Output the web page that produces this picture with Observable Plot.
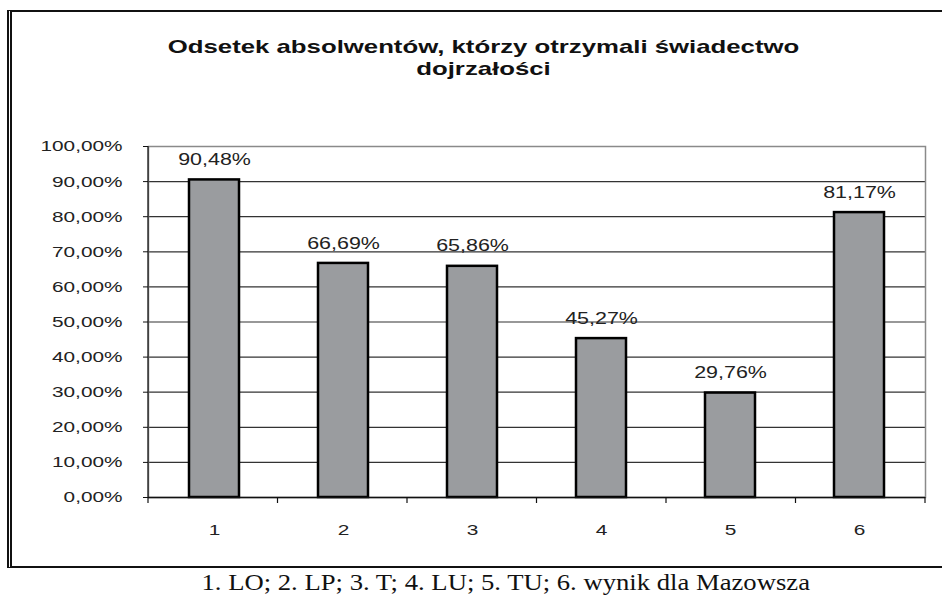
<!DOCTYPE html>
<html><head><meta charset="utf-8">
<script src="https://cdn.jsdelivr.net/npm/d3@7"></script>
<script src="https://cdn.jsdelivr.net/npm/@observablehq/plot@0.6"></script>
<style>
body{margin:0;background:#fff;}
#wrap{position:relative;width:942px;height:597px;overflow:hidden;font-family:"Liberation Sans",Arial,sans-serif;color:#111;}
#frame{position:absolute;left:7px;top:10px;width:980px;height:554px;border-top:2px solid #111;border-bottom:2px solid #111;border-left:5px double #111;}
#title{position:absolute;top:36px;left:13px;width:942px;text-align:center;font-weight:bold;font-size:18.4px;line-height:22px;}
#title span{display:inline-block;transform:scaleX(1.40);}
#chart{position:absolute;left:0;top:100px;}
#caption{position:absolute;top:570px;left:35px;width:942px;text-align:center;font-family:"Liberation Serif","Times New Roman",serif;font-size:22.5px;line-height:26px;color:#111;}
#caption span{display:inline-block;transform:scaleX(1.185);}
</style></head>
<body>
<div id="wrap">
  <div id="frame"></div>
  <div id="title"><span>Odsetek absolwentów, którzy otrzymali świadectwo<br>dojrzałości</span></div>
  <div id="chart"></div>
  <div id="caption"><span>1. LO; 2. LP; 3. T; 4. LU; 5. TU; 6. wynik dla Mazowsza</span></div>
</div>
<script>
const categories = ["1", "2", "3", "4", "5", "6"];
const values = [90.48, 66.69, 65.86, 45.27, 29.76, 81.17];
const valueLabels = ["90,48%", "66,69%", "65,86%", "45,27%", "29,76%", "81,17%"];
const yTicks = [0, 10, 20, 30, 40, 50, 60, 70, 80, 90, 100];
const yTickLabels = ["0,00%", "10,00%", "20,00%", "30,00%", "40,00%", "50,00%", "60,00%", "70,00%", "80,00%", "90,00%", "100,00%"];

const data = categories.map((c, i) => ({cat: c, value: values[i], label: valueLabels[i]}));
const textColor = "#222";
const pi = 0.615;

const boundaryTicks = (index, scales, vals, dim, context) => {
  const g = d3.create("svg:g");
  const n = categories.length;
  const x0 = dim.marginLeft, x1 = dim.width - dim.marginRight;
  const y0 = dim.height - dim.marginBottom;
  const yt = dim.marginTop;
  g.append("line").attr("x1", x0).attr("x2", x0).attr("y1", yt).attr("y2", y0)
    .attr("stroke", "#111").attr("stroke-width", 1.2);
  for (let i = 0; i <= n; i++) {
    const x = x0 + (x1 - x0) * i / n;
    g.append("line").attr("x1", x).attr("x2", x).attr("y1", y0).attr("y2", y0 + 6)
      .attr("stroke", "#111").attr("stroke-width", 1.2);
  }
  return g.node();
};

const chart = Plot.plot({
  width: 942,
  height: 460,
  marginTop: 46,
  marginBottom: 63,
  marginLeft: 148,
  marginRight: 17,
  style: {fontFamily: "'Liberation Sans', Arial, sans-serif", fontSize: "15.5px", color: textColor, background: "transparent"},
  x: {domain: categories, paddingInner: pi, paddingOuter: pi / 2, label: null},
  y: {domain: [0, 100], label: null},
  marks: [
    Plot.ruleY(yTicks.filter(d => d > 0 && d < 100), {stroke: "#333", strokeWidth: 1.2}),
    Plot.frame({stroke: "#8a8a8a", strokeWidth: 1.5}),
    Plot.barY(data, {x: "cat", y: "value", fill: "#9a9c9f", stroke: "#000", strokeWidth: 2.5}),
    Plot.ruleY([0], {stroke: "#111", strokeWidth: 1.5}),
    boundaryTicks,
    Plot.axisY({ticks: yTicks, tickFormat: d => yTickLabels[yTicks.indexOf(d)], tickSize: 5, tickPadding: 21, stroke: "#111", fill: textColor, fontSize: 15.5, label: null}),
    Plot.axisX({tickSize: 0, tickPadding: 26, fill: textColor, fontSize: 15.5, label: null}),
    Plot.text(data, {x: "cat", y: "value", text: "label", dy: -20, lineAnchor: "middle", fill: textColor, fontSize: 16})
  ]
});
document.getElementById("chart").appendChild(chart);
chart.querySelectorAll("text").forEach(t => {
  const len = t.getComputedTextLength();
  if (len > 0) {
    t.setAttribute("textLength", (len * 1.34).toFixed(1));
    t.setAttribute("lengthAdjust", "spacingAndGlyphs");
  }
});
</script>
</body></html>
